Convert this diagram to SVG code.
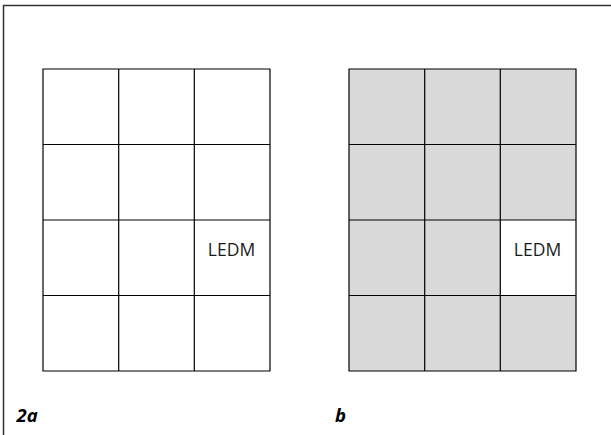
<svg xmlns="http://www.w3.org/2000/svg" width="611" height="435" viewBox="0 0 611 435">
<style>
.g{stroke:#000;stroke-width:1.2;fill:none}
.c{fill:#d9d9d9}
.w{fill:#fff}
.t{font-family:"Open Sans","Noto Sans",sans-serif;font-size:17.5px;fill:#1a1a1a;text-anchor:middle}
.l{font-family:"Open Sans","Noto Sans",sans-serif;font-size:18.5px;font-weight:bold;font-style:italic;fill:#000}
</style>
<rect width="611" height="435" fill="#fff"/>
<g id="frame"><path d="M3.5 435 V5.5 H611" fill="none" stroke="#333" stroke-width="1.5"/></g>
<g id="grid-a">
<rect x="43" y="69" width="227" height="302" class="w"/>
<path class="g" d="M43 69H270V371H43Z M118.7 69V371 M194.3 69V371 M43 144.5H270 M43 220H270 M43 295.5H270"/>
<text class="t" x="231.5" y="256">LEDM</text>
</g>
<g id="grid-b">
<rect x="349" y="69" width="227" height="302" class="c"/>
<rect x="500.3" y="220" width="75.7" height="75.5" class="w"/>
<path class="g" d="M349 69H576V371H349Z M424.7 69V371 M500.3 69V371 M349 144.5H576 M349 220H576 M349 295.5H576"/>
<text class="t" x="537.5" y="256">LEDM</text>
</g>
<g id="labels">
<text class="l" x="16.5" y="422">2a</text>
<text class="l" x="335" y="421.5">b</text>
</g>
</svg>
